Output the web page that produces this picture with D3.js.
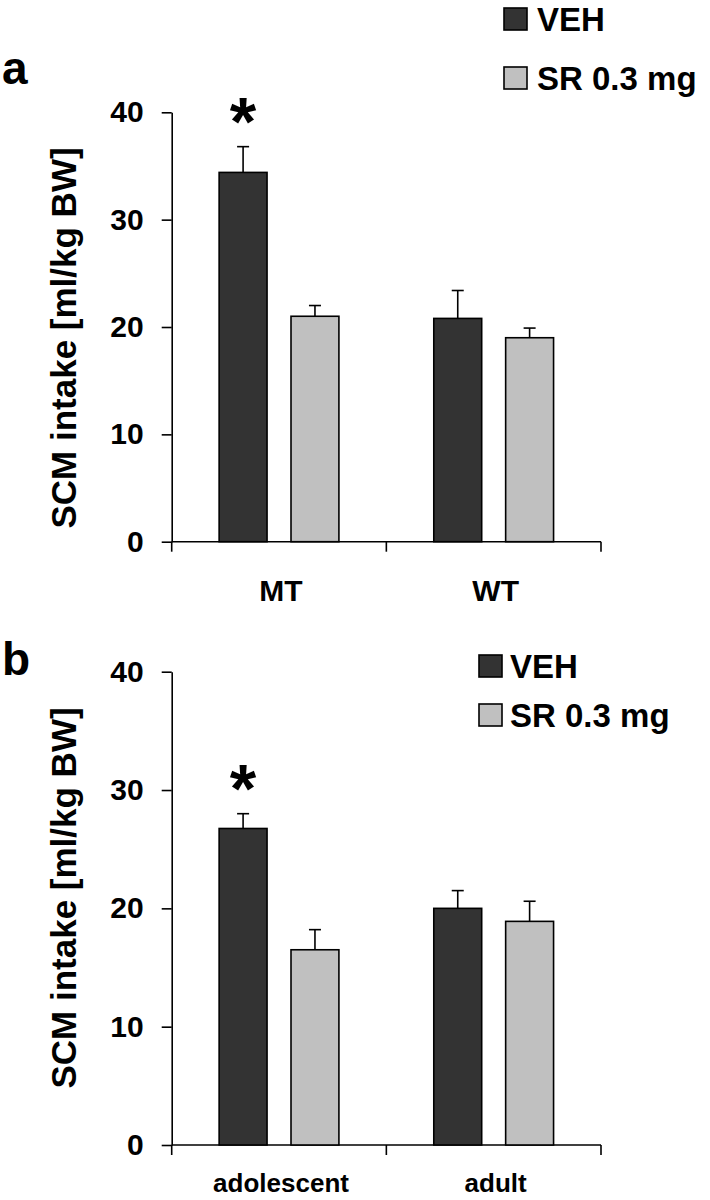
<!DOCTYPE html>
<html>
<head>
<meta charset="utf-8">
<script src="https://cdn.jsdelivr.net/npm/d3@7"></script>
<style>
  html, body { margin: 0; padding: 0; background: #fff; }
  svg { display: block; }
  text { font-family: "Liberation Sans", Arial, Helvetica, sans-serif; font-weight: bold; fill: #000; }
</style>
</head>
<body>
<svg id="chart" width="710" height="1200"></svg>
<script>
// ---- data ----
const seriesNames = ["VEH", "SR 0.3 mg"];
const yTicks = [0, 10, 20, 30, 40];

const categoriesA = ["MT", "WT"];
const vehA = [34.4, 20.8];
const vehErrA = [2.4, 2.6];
const srA = [21.0, 19.0];
const srErrA = [1.0, 0.9];
const sigA = ["MT"];

const categoriesB = ["adolescent", "adult"];
const vehB = [26.75, 20.0];
const vehErrB = [1.25, 1.5];
const srB = [16.5, 18.9];
const srErrB = [1.7, 1.7];
const sigB = ["adolescent"];

// ---- layout ----
const colors = { "VEH": "#333333", "SR 0.3 mg": "#c0c0c0" };
const svg = d3.select("#chart");

const panels = [
  { letter: "a", cats: categoriesA, veh: vehA, vehErr: vehErrA, sr: srA, srErr: srErrA, sig: sigA,
    y0: 541.7, y1: 112.3, letterY: 84, catFont: 30, catDy: 59, titleY: 338,
    legendX: 504, legendY: [8, 67], legendText: 537 },
  { letter: "b", cats: categoriesB, veh: vehB, vehErr: vehErrB, sr: srB, srErr: srErrB, sig: sigB,
    y0: 1145, y1: 671.7, letterY: 675, catFont: 26, catDy: 47, titleY: 898,
    legendX: 479, legendY: [655, 704], legendText: 510 }
];

const xLeft = 171.7, xRight = 601;

panels.forEach(p => {
  const g = svg.append("g");
  const x = d3.scaleBand().domain(p.cats).range([xLeft, xRight]).padding(0);
  const xs = d3.scaleBand().domain(seriesNames).range([0, x.bandwidth()])
    .paddingInner(1 / 3).paddingOuter(0.66);
  const y = d3.scaleLinear().domain([0, 40]).range([p.y0, p.y1]);

  // y axis
  const yAxis = g.append("g").attr("transform", `translate(${xLeft},0)`)
    .call(d3.axisLeft(y).tickValues(yTicks).tickSize(10).tickPadding(18).tickSizeOuter(0));
  yAxis.select(".domain").attr("stroke", "#000").attr("stroke-width", 1.6);
  yAxis.selectAll(".tick line").attr("stroke", "#000").attr("stroke-width", 1.6);
  yAxis.selectAll(".tick text").style("font-size", "30px").attr("font-family", null).attr("fill", "#000");

  // x axis
  g.append("line").attr("x1", xLeft).attr("x2", xRight).attr("y1", y(0)).attr("y2", y(0))
    .attr("stroke", "#000").attr("stroke-width", 1.6);
  const bounds = [xLeft].concat(p.cats.map(c => x(c) + x.bandwidth()));
  g.selectAll(".xtick").data(bounds).enter().append("line")
    .attr("x1", d => d).attr("x2", d => d).attr("y1", y(0)).attr("y2", y(0) + 10)
    .attr("stroke", "#000").attr("stroke-width", 1.6);
  g.selectAll(".xlab").data(p.cats).enter().append("text")
    .attr("x", d => x(d) + x.bandwidth() / 2 + 2)
    .attr("y", y(0) + p.catDy)
    .attr("text-anchor", "middle")
    .style("font-size", p.catFont + "px")
    .text(d => d);

  // bars
  const rows = [];
  p.cats.forEach((c, i) => {
    rows.push({ cat: c, s: "VEH", v: p.veh[i], e: p.vehErr[i] });
    rows.push({ cat: c, s: "SR 0.3 mg", v: p.sr[i], e: p.srErr[i] });
  });
  const bars = g.selectAll(".bar").data(rows).enter().append("g");
  // error bars (up only)
  bars.append("line")
    .attr("x1", d => x(d.cat) + xs(d.s) + xs.bandwidth() / 2)
    .attr("x2", d => x(d.cat) + xs(d.s) + xs.bandwidth() / 2)
    .attr("y1", d => y(d.v)).attr("y2", d => y(d.v + d.e))
    .attr("stroke", "#000").attr("stroke-width", 1.6);
  bars.append("line")
    .attr("x1", d => x(d.cat) + xs(d.s) + xs.bandwidth() / 2 - 6)
    .attr("x2", d => x(d.cat) + xs(d.s) + xs.bandwidth() / 2 + 6)
    .attr("y1", d => y(d.v + d.e)).attr("y2", d => y(d.v + d.e))
    .attr("stroke", "#000").attr("stroke-width", 1.6);
  bars.append("rect")
    .attr("x", d => x(d.cat) + xs(d.s))
    .attr("width", xs.bandwidth())
    .attr("y", d => y(d.v))
    .attr("height", d => y(0) - y(d.v))
    .attr("fill", d => colors[d.s])
    .attr("stroke", "#000").attr("stroke-width", 1.6);

  // significance stars
  p.sig.forEach(c => {
    const i = p.cats.indexOf(c);
    g.append("text")
      .attr("x", x(c) + xs("VEH") + xs.bandwidth() / 2)
      .attr("y", y(p.veh[i] + p.vehErr[i]) - 2)
      .attr("text-anchor", "middle")
      .style("font-size", "68px")
      .text("*");
  });

  // y title
  g.append("text")
    .attr("transform", `translate(76,${p.titleY}) rotate(-90)`)
    .attr("text-anchor", "middle")
    .style("font-size", "35px")
    .text("SCM intake [ml/kg BW]");

  // panel letter
  g.append("text").attr("x", 2).attr("y", p.letterY).style("font-size", "46px").text(p.letter);

  // legend
  seriesNames.forEach((s, i) => {
    g.append("rect").attr("x", p.legendX).attr("y", p.legendY[i]).attr("width", 23).attr("height", 22)
      .attr("fill", colors[s]).attr("stroke", "#000").attr("stroke-width", 1.6);
    g.append("text").attr("x", p.legendText).attr("y", p.legendY[i] + 22.5)
      .style("font-size", "33px").text(s);
  });
});
</script>
</body>
</html>
